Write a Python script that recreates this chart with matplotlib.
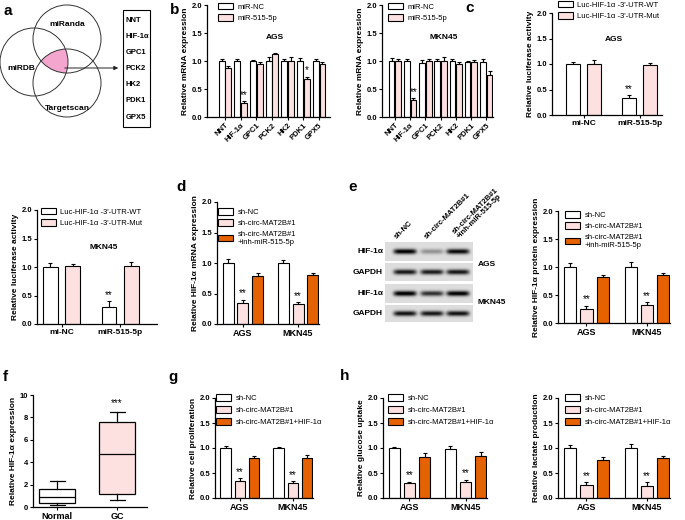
import numpy as np
import matplotlib
matplotlib.use("Agg")
import matplotlib.pyplot as plt
from matplotlib.patches import Circle, Rectangle, Polygon, Patch
from matplotlib.ticker import FormatStrFormatter

plt.rcParams["font.family"] = ["Liberation Sans", "DejaVu Sans"]
plt.rcParams["font.weight"] = "bold"
plt.rcParams["axes.labelweight"] = "bold"

W, H = 685, 520
PINK = "#fde0e0"
ORANGE = "#e66100"

# ---- data ----
venn_sets = ["miRanda", "miRDB", "Targetscan"]
targets = ["NNT", "HIF-1α", "GPC1", "PCK2", "HK2", "PDK1", "GPX5"]

b_ags_nc = [1.0, 1.0, 1.0, 1.0, 1.0, 1.0, 1.0]
b_ags_nc_err = [0.03, 0.04, 0.02, 0.07, 0.04, 0.05, 0.03]
b_ags_mir = [0.87, 0.25, 0.95, 1.12, 1.0, 0.68, 0.95]
b_ags_mir_err = [0.04, 0.03, 0.04, 0.02, 0.07, 0.04, 0.04]
b_ags_sig = ["", "**", "", "", "", "*", ""]

b_mkn_nc = [1.0, 1.0, 0.97, 1.0, 1.0, 0.98, 0.98]
b_mkn_nc_err = [0.05, 0.04, 0.05, 0.04, 0.03, 0.02, 0.05]
b_mkn_mir = [1.0, 0.3, 1.0, 1.0, 0.95, 0.98, 0.75]
b_mkn_mir_err = [0.03, 0.04, 0.04, 0.07, 0.04, 0.03, 0.07]
b_mkn_sig = ["", "**", "", "", "", "", ""]

luc_groups = ["mi-NC", "miR-515-5p"]
luc_labels = ["Luc-HIF-1α -3'-UTR-WT", "Luc-HIF-1α -3'-UTR-Mut"]
c_ags_wt = [1.0, 0.34]
c_ags_wt_err = [0.03, 0.05]
c_ags_mut = [1.0, 0.99]
c_ags_mut_err = [0.08, 0.03]
c_mkn_wt = [1.0, 0.3]
c_mkn_wt_err = [0.07, 0.1]
c_mkn_mut = [1.01, 1.02]
c_mkn_mut_err = [0.05, 0.07]

cells = ["AGS", "MKN45"]
de_labels = ["sh-NC", "sh-circ-MAT2B#1", "sh-circ-MAT2B#1\n+inh-miR-515-5p"]
d_nc, d_nc_err = [1.0, 1.0], [0.06, 0.05]
d_sh, d_sh_err = [0.34, 0.32], [0.06, 0.04]
d_inh, d_inh_err = [0.79, 0.8], [0.05, 0.04]

e_nc, e_nc_err = [1.0, 1.0], [0.08, 0.09]
e_sh, e_sh_err = [0.25, 0.32], [0.06, 0.06]
e_inh, e_inh_err = [0.83, 0.85], [0.02, 0.05]

blot_rows = ["HIF-1α", "GAPDH", "HIF-1α", "GAPDH"]
blot_lanes = ["sh-NC", "sh-circ-MAT2B#1", "sh-circ-MAT2B#1\n+inh-miR-515-5p"]
blot_bands = [[0.9, 0.3, 0.85], [0.8, 0.78, 0.8], [0.92, 0.7, 0.9], [0.82, 0.8, 0.82]]

f_groups = ["Normal", "GC"]
f_whislo = [0.15, 0.6]
f_q1 = [0.4, 1.2]
f_med = [0.85, 4.75]
f_q3 = [1.6, 7.6]
f_whishi = [2.3, 8.5]

gh_labels = ["sh-NC", "sh-circ-MAT2B#1", "sh-circ-MAT2B#1+HIF-1α"]
g_nc, g_nc_err = [1.0, 1.0], [0.05, 0.03]
g_sh, g_sh_err = [0.34, 0.3], [0.06, 0.04]
g_hif, g_hif_err = [0.81, 0.8], [0.03, 0.06]

h1_nc, h1_nc_err = [1.0, 0.99], [0.03, 0.06]
h1_sh, h1_sh_err = [0.3, 0.32], [0.03, 0.05]
h1_hif, h1_hif_err = [0.83, 0.85], [0.08, 0.07]

h2_nc, h2_nc_err = [1.01, 1.0], [0.05, 0.08]
h2_sh, h2_sh_err = [0.27, 0.25], [0.05, 0.07]
h2_hif, h2_hif_err = [0.77, 0.8], [0.06, 0.04]

fig = plt.figure(figsize=(W / 100, H / 100), dpi=100)


def add_ax(x0, x1, y0, y1):
    return fig.add_axes([x0 / W, 1 - y1 / H, (x1 - x0) / W, (y1 - y0) / H])


def style(ax, ylabel, ymax=2.0, step=0.5, fmt="%.1f"):
    for s in ["top", "right"]:
        ax.spines[s].set_visible(False)
    for s in ["left", "bottom"]:
        ax.spines[s].set_linewidth(0.9)
    ax.set_ylim(0, ymax)
    ax.set_yticks(np.arange(0, ymax + 1e-6, step))
    ax.yaxis.set_major_formatter(FormatStrFormatter(fmt))
    ax.tick_params(labelsize=5.5, width=0.8, length=2.5, pad=1)
    ax.set_ylabel(ylabel, fontsize=6, labelpad=2)


def bars(ax, x, vals, errs, color, width):
    ax.errorbar(x, vals, yerr=[np.zeros(len(errs)), errs], fmt="none",
                ecolor="black", elinewidth=0.8, capsize=1.5, capthick=0.8, zorder=1)
    ax.bar(x, vals, width, color=color, edgecolor="black", linewidth=0.8, zorder=2)


def stars(ax, x, vals, errs, sig, size=7):
    for xi, v, e, s in zip(x, vals, errs, sig):
        if s:
            ax.text(xi, v + e + 0.02, s, ha="center", va="bottom", fontsize=size,
                    fontweight="normal")


def legend(ax, colors, labels, anchor, spacing=0.45):
    handles = [Patch(facecolor=c, edgecolor="black", linewidth=0.8) for c in colors]
    ax.legend(handles, labels, loc="upper left", bbox_to_anchor=anchor, frameon=False,
              prop={"size": 5.5, "weight": "normal"}, handlelength=2.0,
              handleheight=0.95, handletextpad=0.6, labelspacing=spacing,
              borderaxespad=0, borderpad=0)


def panel(letter, x, y):
    fig.text(x / W, 1 - y / H, letter, fontsize=11, fontweight="bold",
             ha="left", va="center")


# ---- a: venn ----
ax = add_ax(0, 160, 0, 135)
ax.set_xlim(0, 160)
ax.set_ylim(135, 0)
ax.axis("off")
circles = [(67, 39, 34), (34, 62, 34), (67, 83, 34)]
pts = []
t = np.linspace(0, 2 * np.pi, 1440)
for i, (cx, cy, r) in enumerate(circles):
    px, py = cx + r * np.cos(t), cy + r * np.sin(t)
    ok = np.ones_like(px, dtype=bool)
    for j, (ox, oy, orr) in enumerate(circles):
        if j != i:
            ok &= (px - ox) ** 2 + (py - oy) ** 2 <= orr ** 2 + 1e-6
    pts.append(np.column_stack([px[ok], py[ok]]))
pts = np.vstack(pts)
c0 = pts.mean(axis=0)
pts = pts[np.argsort(np.arctan2(pts[:, 1] - c0[1], pts[:, 0] - c0[0]))]
ax.add_patch(Polygon(pts, closed=True, facecolor="#f4a6cf", edgecolor="none"))
for cx, cy, r in circles:
    ax.add_patch(Circle((cx, cy), r, fill=False, edgecolor="#333333", linewidth=0.7))
ax.text(67, 24, venn_sets[0], ha="center", va="center", fontsize=6)
ax.text(21, 68, venn_sets[1], ha="center", va="center", fontsize=6)
ax.text(67, 108, venn_sets[2], ha="center", va="center", fontsize=6)
ax.annotate("", xy=(121, 68), xytext=(62, 68),
            arrowprops=dict(arrowstyle="-|>", lw=0.7, color="#222222", mutation_scale=6))
ax.add_patch(Rectangle((123, 10), 27, 117, fill=False, edgecolor="black", linewidth=0.8))
for k, name in enumerate(targets):
    ax.text(126, 20 + k * 16.2, name, ha="left", va="center", fontsize=5.5)
panel("a", 3, 11)

# ---- b ----
xb = np.arange(len(targets))
for (x0, x1, xl, title, nc, nce, mi, mie, sig, lx) in [
        (207, 330, (-1.15, 6.7), "AGS", b_ags_nc, b_ags_nc_err, b_ags_mir, b_ags_mir_err, b_ags_sig, 0.09),
        (382, 493, (-0.85, 6.45), "MKN45", b_mkn_nc, b_mkn_nc_err, b_mkn_mir, b_mkn_mir_err, b_mkn_sig, 0.05)]:
    ax = add_ax(x0, x1, 5, 117)
    bars(ax, xb - 0.22, nc, nce, "white", 0.38)
    bars(ax, xb + 0.22, mi, mie, PINK, 0.38)
    stars(ax, xb + 0.22, mi, mie, sig)
    style(ax, "Relative mRNA expression")
    ax.set_xlim(*xl)
    ax.set_xticks(xb)
    ax.set_xticklabels(targets, rotation=45, ha="right", rotation_mode="anchor", fontsize=5.5)
    ax.text(0.5 * (xl[0] + xl[1]) + 0.4, 1.42, title, ha="center", va="center", fontsize=6)
    legend(ax, ["white", PINK], ["miR-NC", "miR-515-5p"], (lx, 1.02))
panel("b", 170, 10)

# ---- c ----
xc = np.arange(len(luc_groups))
for (x0, x1, y0, y1, xl, title, ty, wt, wte, mu, mue, la) in [
        (552, 662, 13, 115, (-0.57, 1.4), "AGS", 1.49, c_ags_wt, c_ags_wt_err, c_ags_mut, c_ags_mut_err, (0.05, 1.12)),
        (37, 157, 210, 324, (-0.42, 1.63), "MKN45", 1.35, c_mkn_wt, c_mkn_wt_err, c_mkn_mut, c_mkn_mut_err, (0.03, 1.02))]:
    ax = add_ax(x0, x1, y0, y1)
    bars(ax, xc - 0.19, wt, wte, "white", 0.25)
    bars(ax, xc + 0.19, mu, mue, PINK, 0.25)
    stars(ax, xc[1:] - 0.19, wt[1:], wte[1:], ["**"])
    style(ax, "Relative luciferase activity")
    ax.set_xlim(*xl)
    ax.set_xticks(xc)
    ax.set_xticklabels(luc_groups, fontsize=6)
    ax.text(0.5 * (xl[0] + xl[1]) + 0.12, ty, title, ha="center", va="center", fontsize=6)
    legend(ax, ["white", PINK], luc_labels, la)
panel("c", 465, 8)

# ---- three-bar charts ----
xg = np.arange(len(cells))


def three(x0, x1, y0, y1, a, b, c, ylabel, labels, la, spacing=0.45):
    ax = add_ax(x0, x1, y0, y1)
    bars(ax, xg - 0.27, a[0], a[1], "white", 0.2)
    bars(ax, xg, b[0], b[1], PINK, 0.2)
    bars(ax, xg + 0.27, c[0], c[1], ORANGE, 0.2)
    stars(ax, xg, b[0], b[1], ["**", "**"])
    style(ax, ylabel)
    ax.set_xlim(-0.47, 1.38)
    ax.set_xticks(xg)
    ax.set_xticklabels(cells, fontsize=6.5)
    legend(ax, ["white", PINK, ORANGE], labels, la, spacing)
    return ax


three(217, 319, 202, 324, (d_nc, d_nc_err), (d_sh, d_sh_err), (d_inh, d_inh_err),
      "Relative HIF-1α mRNA expression", de_labels, (0.01, 0.95))
panel("d", 176, 187)

three(558, 670, 211, 323, (e_nc, e_nc_err), (e_sh, e_sh_err), (e_inh, e_inh_err),
      "Relative HIF-1α protein expression", de_labels, (0.06, 1.0))
panel("e", 348, 187)

# ---- e: blot ----
ax = add_ax(385, 473, 242, 322)
ax.set_xlim(0, 88)
ax.set_ylim(80, 0)
ax.axis("off")
strips = [(0, 19), (21, 39), (42, 61), (63, 80)]
lane_x = [20, 47, 73]
for (top, bot), amps in zip(strips, blot_bands):
    hh = (bot - top) * 4
    X, Y = np.meshgrid(np.linspace(0, 88, 88 * 4), np.linspace(top, bot, hh))
    yc = 0.5 * (top + bot)
    img = np.full(X.shape, 0.13)
    for xc_, amp in zip(lane_x, amps):
        img += amp * np.exp(-((X - xc_) / 11.5) ** 6) * np.exp(-((Y - yc) / 2.6) ** 2)
    ax.imshow(np.clip(img, 0, 1), cmap="gray_r", vmin=0, vmax=1, aspect="auto",
              extent=(0, 88, bot, top), interpolation="bilinear")
for (top, bot), name in zip(strips, blot_rows):
    fig.text(383 / W, 1 - (242 + 0.5 * (top + bot)) / H, name, ha="right", va="center", fontsize=6)
fig.text(478 / W, 1 - 264 / H, "AGS", ha="left", va="center", fontsize=6)
fig.text(478 / W, 1 - 303 / H, "MKN45", ha="left", va="center", fontsize=6)
for lx, name in zip([398, 428, 461], blot_lanes):
    fig.text(lx / W, 1 - 240 / H, name, rotation=45, rotation_mode="anchor",
             ha="left", va="bottom", fontsize=5.5, linespacing=1.0)

# ---- f ----
ax = add_ax(33, 147, 395, 507)
stats = [dict(whislo=a, q1=b, med=c, q3=d, whishi=e, label=n)
         for a, b, c, d, e, n in zip(f_whislo, f_q1, f_med, f_q3, f_whishi, f_groups)]
bp = ax.bxp(stats, positions=[1, 2], widths=0.6, patch_artist=True, showfliers=False,
            capwidths=0.25,
            boxprops=dict(edgecolor="black", linewidth=0.9),
            medianprops=dict(color="black", linewidth=0.9),
            whiskerprops=dict(color="black", linewidth=0.9),
            capprops=dict(color="black", linewidth=0.9))
for patch, col in zip(bp["boxes"], ["white", PINK]):
    patch.set_facecolor(col)
style(ax, "Relative HIF-1α expression", ymax=10, step=2, fmt="%d")
ax.set_xlim(0.6, 2.5)
ax.set_xticks([1, 2])
ax.set_xticklabels(f_groups, fontsize=6.5)
ax.text(2, f_whishi[1] + 0.3, "***", ha="center", va="bottom", fontsize=7, fontweight="normal")
panel("f", 3, 377)

# ---- g, h ----
three(215, 313, 398, 498, (g_nc, g_nc_err), (g_sh, g_sh_err), (g_hif, g_hif_err),
      "Relative cell proliferation", gh_labels, (0.01, 1.04), 0.55)
panel("g", 168, 377)
three(383, 487, 398, 498, (h1_nc, h1_nc_err), (h1_sh, h1_sh_err), (h1_hif, h1_hif_err),
      "Relative glucose uptake", gh_labels, (0.05, 1.04), 0.55)
panel("h", 340, 376)
three(558, 670, 398, 498, (h2_nc, h2_nc_err), (h2_sh, h2_sh_err), (h2_hif, h2_hif_err),
      "Relative lactate production", gh_labels, (0.06, 1.04), 0.55)

fig.savefig("out.png", dpi=100)
